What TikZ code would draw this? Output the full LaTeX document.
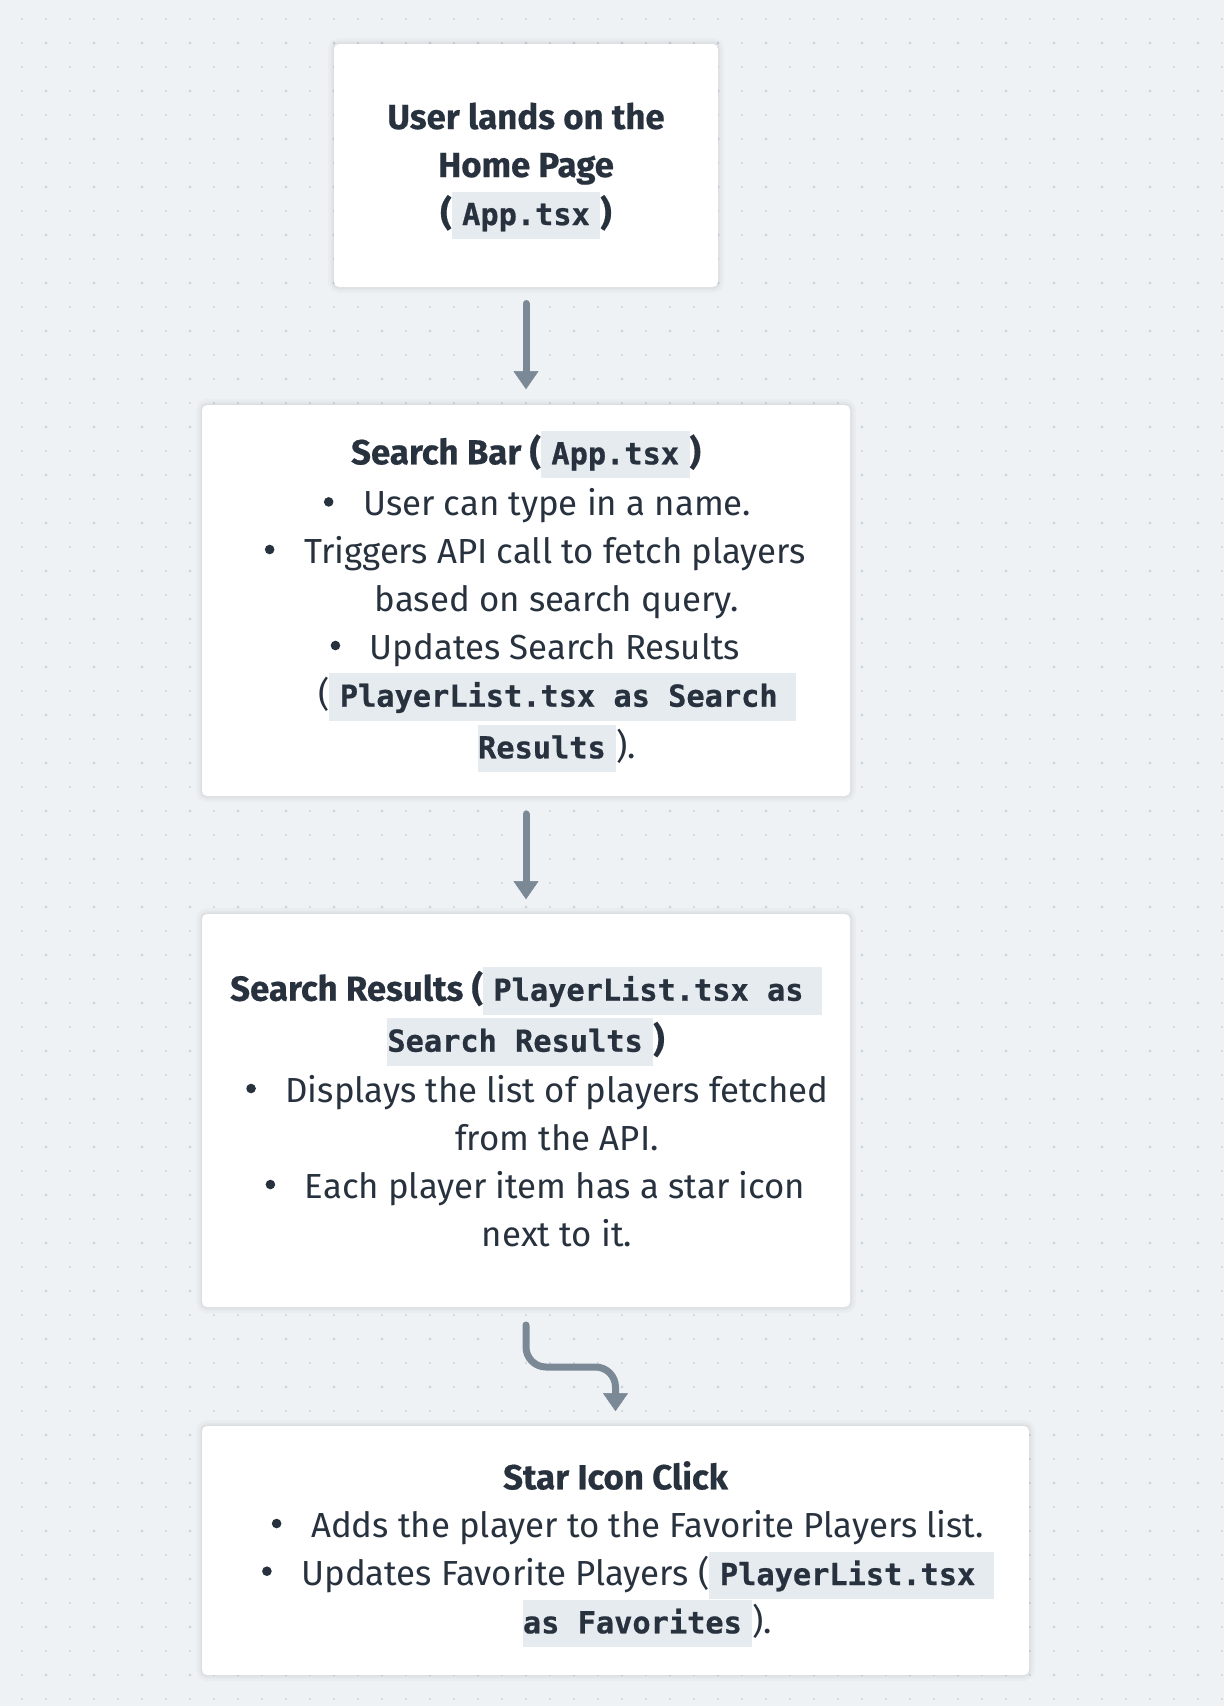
\documentclass[tikz,border=0pt]{standalone}
\usepackage{fontspec}
\setmainfont{Fira Sans}[BoldFeatures={FakeBold=0.5}]
\newfontfamily\codefam{DejaVu Sans Mono}[BoldFeatures={FakeBold=0.7}]
\usetikzlibrary{arrows.meta}
\definecolor{bgc}{HTML}{EFF2F5}
\definecolor{dotc}{HTML}{BCC3CD}
\definecolor{dotb}{HTML}{CDD5E0}
\definecolor{txt}{HTML}{28323E}
\definecolor{codebg}{HTML}{E6EBF0}
\definecolor{arrc}{HTML}{7B8896}
\newcommand\cfrag[3]{{\fboxsep=0pt\colorbox{codebg}{\rule[-14pt]{0pt}{47.5pt}\hspace*{#1}{\codefam\bfseries\fontsize{30.3}{48}\selectfont #2}\hspace*{#3}}}}
\begin{document}
\begin{tikzpicture}[x=1pt,y=-1pt,
  card/.style={fill=white, rounded corners=5pt, inner sep=0pt, outer sep=0pt,
    preaction={draw=black, draw opacity=0.02, line width=12pt},
    preaction={draw=black, draw opacity=0.025, line width=7pt},
    preaction={draw=black, draw opacity=0.03, line width=3pt}},
  ln/.style={anchor=base, inner sep=0pt, outer sep=0pt, text=txt, font=\fontsize{34.8}{48}\selectfont},
  ttl/.style={ln, font=\bfseries\fontsize{34.8}{48}\selectfont},
  arr/.style={draw=arrc, line width=7pt, line cap=round,
    -{Triangle[width=25pt,length=18pt,line width=0.5pt,round]}},
  bul/.style={fill=txt}]
\useasboundingbox (0,0) rectangle (1224,1706);
\fill[bgc] (0,0) rectangle (1224,1706);
% dot grid
\foreach \y in {19,43,...,1699} {
  \fill[dotc] \foreach \x in {22,46,...,1222} {(\x,\y) circle (0.8pt)};
}
\foreach \y in {43,91,...,1699} {
  \fill[dotb] \foreach \x in {46,94,...,1222} {(\x,\y) circle (1.7pt)};
}
% cards
\node[card, minimum width=384pt, minimum height=243pt] (b1) at (526,165.5) {};
\node[card, minimum width=648pt, minimum height=391pt] (b2) at (526,600.5) {};
\node[card, minimum width=648pt, minimum height=393pt] (b3) at (526,1110.5) {};
\node[card, minimum width=827pt, minimum height=249pt] (b4) at (615.5,1550.5) {};
% box 1
\node[ttl] (t1a) at (526,129) {User lands on the};
\node[ttl] (t1b) at (526,177) {Home Page};
\node[ttl] (t1c) at (526,225) {(\cfrag{10.5pt}{App.tsx}{10.5pt})};
% box 2
\node[ttl] (t2a) at (526,464.3) {Search Bar (\cfrag{10.5pt}{App.tsx}{10.5pt})};
\node[ln] (t2b) at (557,515.7) {User can type in a name.};
\node[ln] (t2c) at (555,563.3) {Triggers API call to fetch players};
\node[ln] (t2d) at (557,611.7) {based on search query.};
\node[ln] (t2e) at (555,659.3) {Updates Search Results};
\node[ln] (t2f) at (557,706.7) {(\cfrag{10.5pt}{PlayerList.tsx as Search\ }{0pt}};
\node[ln] (t2g) at (557,758.3) {\cfrag{0pt}{Results}{10.5pt}).};
% box 3
\node[ttl] (t3a) at (526,1000.7) {Search Results (\cfrag{10.5pt}{PlayerList.tsx as\ }{0pt}};
\node[ttl] (t3b) at (526,1051.7) {\cfrag{0pt}{Search Results}{10.5pt})};
\node[ln] (t3c) at (557,1102.3) {Displays the list of players fetched};
\node[ln] (t3d) at (557,1150) {from the API.};
\node[ln] (t3e) at (555,1198.3) {Each player item has a star icon};
\node[ln] (t3f) at (557,1246) {next to it.};
% box 4
\node[ttl] (t4a) at (615.5,1489.3) {Star Icon Click};
\node[ln] (t4b) at (647.5,1537.3) {Adds the player to the Favorite Players list.};
\node[ln] (t4c) at (647.5,1585) {Updates Favorite Players (\cfrag{10.5pt}{PlayerList.tsx\ }{0pt}};
\node[ln] (t4d) at (647.5,1633.3) {\cfrag{0pt}{as Favorites}{10.5pt}).};
% bullets
\foreach \n in {t2b,t2c,t2e,t3c,t3e,t4b,t4c}
  \fill[bul] ([xshift=-34.5pt,yshift=13.8pt]\n.base west) circle (4.8pt);
% arrows
\draw[arr] ([yshift=-16.5pt]b1.south) -- ([yshift=16pt]b2.north);
\draw[arr] ([yshift=-18pt]b2.south) -- ([yshift=15pt]b3.north);
\draw[arr, rounded corners=20pt] ([yshift=-18pt]b3.south) -- ([yshift=-60pt]b3.south) -| ([yshift=15pt]b4.north);
\end{tikzpicture}
\end{document}
